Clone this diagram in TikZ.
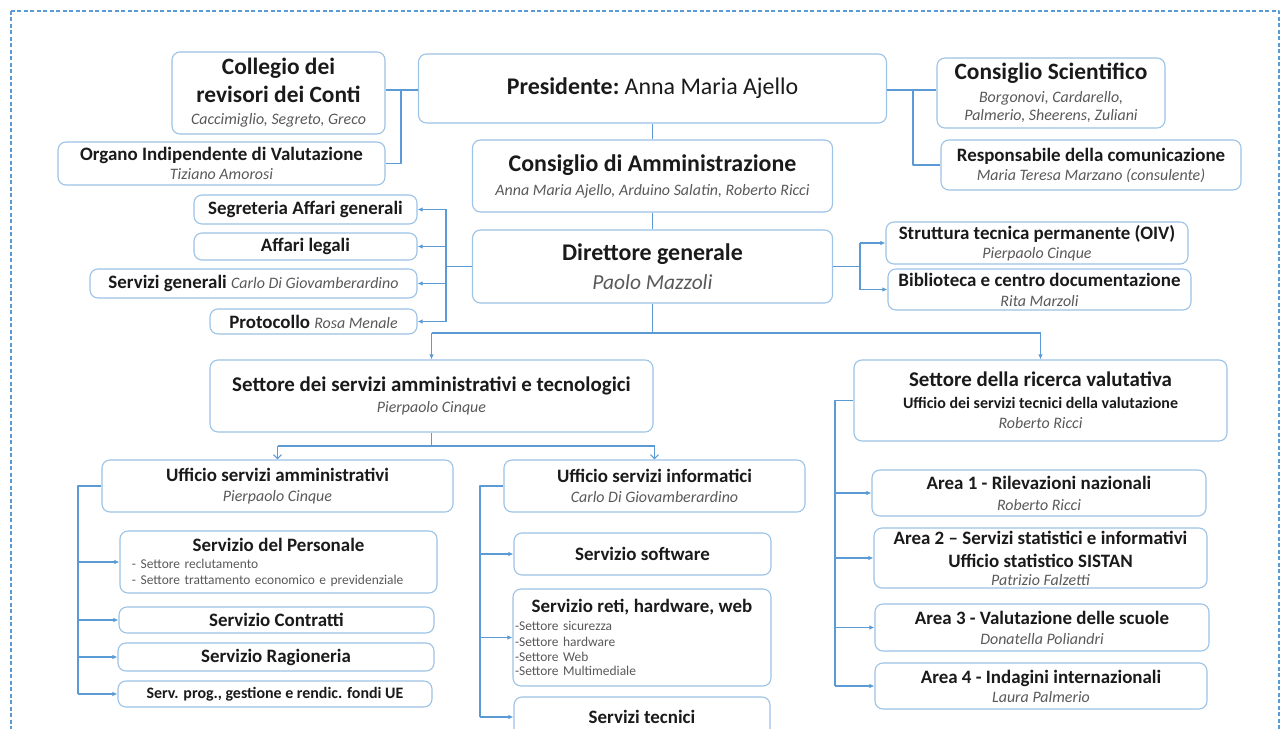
\documentclass[tikz,border=0pt]{standalone}
\usepackage{fontspec}
\setmainfont{Carlito}
\usetikzlibrary{arrows.meta}
\definecolor{boxline}{HTML}{9DC3E6}
\definecolor{linkblue}{HTML}{5B9BD5}
\definecolor{namegray}{HTML}{595959}
\definecolor{textdark}{HTML}{1A1A1A}
\newcommand{\fbig}{\fontsize{24}{29}\selectfont\bfseries}
\newcommand{\fttl}{\fontsize{23.5}{28}\selectfont\bfseries}
\newcommand{\fset}{\fontsize{21}{25}\selectfont\bfseries}
\newcommand{\fmid}{\fontsize{19}{23}\selectfont\bfseries}
\newcommand{\fsma}{\fontsize{19}{23}\selectfont\bfseries}
\newcommand{\fsml}{\fontsize{16}{19}\selectfont\bfseries}
\newcommand{\ftny}{\fontsize{16}{19}\selectfont\bfseries}
\newcommand{\fnam}{\fontsize{16}{19}\selectfont\itshape\color{namegray}}
\newcommand{\fnambig}{\fontsize{21.5}{26}\selectfont\itshape\color{namegray}}
\newcommand{\flst}{\fontsize{13.5}{16}\selectfont\color{namegray}}
\begin{document}
\begin{tikzpicture}[>=latex,line join=bevel,x=1bp,y=-1bp,
  box/.style={draw=boxline,line width=1.1bp,rounded corners=8bp,fill=white,
    align=center,inner sep=2bp,text=textdark},
  lsk/.style={font=\fontsize{16}{#1}\selectfont},
  link/.style={draw=linkblue,line width=1.1bp},
  arrowlink/.style={link,-{Latex[length=5bp,width=4.5bp]}},
  openlink/.style={link,-{Straight Barb[length=4bp,width=8bp]}},
  frame/.style={draw=linkblue,line width=1.1bp,dash pattern=on 4bp off 2.5bp}]
%%
\useasboundingbox (0,0) rectangle (1283,729);
\clip (0,0) rectangle (1283,729);
\fill [white] (0,0) rectangle (1283,729);
\draw [frame] (11,11) rectangle (1279,760);
%
\node (node_collegio) at (278.5,93) [box,lsk=22bp,minimum width=213bp,minimum height=82bp] {{\fttl Collegio dei}\\[6bp]{\fttl revisori dei Conti}\\{\fnam Caccimiglio, Segreto, Greco}};
  \node (node_organo) at (221.5,163.5) [box,lsk=19bp,minimum width=327bp,minimum height=43bp] {{\fmid Organo Indipendente di Valutazione}\\{\fnam Tiziano Amorosi}};
  \node (node_presidente) at (652.5,88.5) [box,minimum width=468bp,minimum height=69bp] {\raisebox{-3bp}{\fbig Presidente:\mdseries\ Anna Maria Ajello}};
  \node (node_consamm) at (652.5,176) [box,lsk=24bp,minimum width=360bp,minimum height=72bp] {{\fbig Consiglio di Amministrazione}\\{\fnam Anna Maria Ajello, Arduino Salatin, Roberto Ricci}};
  \node (node_conssci) at (1051,93) [box,lsk=18bp,minimum width=228bp,minimum height=70bp] {{\fttl Consiglio Scientifico}\\[5bp]{\fnam Borgonovi, Cardarello,}\\{\fnam Palmerio, Sheerens, Zuliani}};
  \node (node_resp) at (1091,165) [box,lsk=19bp,minimum width=300bp,minimum height=50bp] {{\fmid Responsabile della comunicazione}\\{\fnam Maria Teresa Marzano (consulente)}};
  \node (node_direttore) at (652.5,266.5) [box,lsk=29bp,minimum width=360bp,minimum height=73bp] {{\fbig Direttore generale}\\{\fnambig Paolo Mazzoli}};
  \node (node_segreteria) at (305.5,209.5) [box,minimum width=223bp,minimum height=29bp] {{\fsma Segreteria Affari generali}};
  \node (node_affari) at (305.5,246.5) [box,minimum width=223bp,minimum height=27bp] {{\fsma Affari legali}};
  \node (node_servgen) at (253.5,283.5) [box,minimum width=327bp,minimum height=29bp] {{\fsma Servizi generali\ }{\fnam Carlo Di Giovamberardino}};
  \node (node_protocollo) at (313.5,321.5) [box,minimum width=207bp,minimum height=25bp] {{\fsma Protocollo\ }{\fnam Rosa Menale}};
  \node (node_struttura) at (1037,243) [box,lsk=19bp,minimum width=302bp,minimum height=42bp] {{\fmid Struttura tecnica permanente (OIV)}\\{\fnam Pierpaolo Cinque}};
  \node (node_biblioteca) at (1039.5,289.5) [box,lsk=20bp,minimum width=303bp,minimum height=41bp] {{\fmid Biblioteca e centro documentazione}\\{\fnam Rita Marzoli}};
  \node (node_setserv) at (431.5,396) [box,lsk=21bp,minimum width=443bp,minimum height=72bp] {{\fset Settore dei servizi amministrativi e tecnologici}\\{\fnam Pierpaolo Cinque}};
  \node (node_setric) at (1040.5,400.5) [box,lsk=20bp,minimum width=373bp,minimum height=81bp] {{\fset Settore della ricerca valutativa}\\[2bp]{\ftny Ufficio dei servizi tecnici della valutazione}\\{\fnam Roberto Ricci}};
  \node (node_uffamm) at (277.5,486) [box,lsk=20bp,minimum width=351bp,minimum height=52bp] {{\fsma Ufficio servizi amministrativi}\\{\fnam Pierpaolo Cinque}};
  \node (node_uffinf) at (654.5,486) [box,lsk=20bp,minimum width=301bp,minimum height=52bp] {{\fsma Ufficio servizi informatici}\\{\fnam Carlo Di Giovamberardino}};
  \node (node_personale) at (278.5,562) [box,font=\fontsize{13.5}{16}\selectfont,minimum width=317bp,minimum height=62bp,align=left,text width=293bp] {\makebox[293bp][c]{\fsma Servizio del Personale}\\[1bp]{\flst - Settore reclutamento}\\{\flst - Settore trattamento economico e previdenziale}};
  \node (node_contratti) at (276.5,620) [box,minimum width=315bp,minimum height=26bp] {{\fsma Servizio Contratti}};
  \node (node_ragioneria) at (276,657) [box,minimum width=316bp,minimum height=28bp] {{\fsma Servizio Ragioneria}};
  \node (node_fondiue) at (275,694) [box,minimum width=314bp,minimum height=26bp] {{\fsml Serv. prog., gestione e rendic. fondi UE}};
  \node (node_software) at (642.5,554) [box,minimum width=257bp,minimum height=42bp] {{\fmid Servizio software}};
  \node (node_reti) at (642,637.5) [box,font=\fontsize{13.5}{15}\selectfont,minimum width=256bp,minimum height=97bp,align=left,text width=254bp] {\makebox[254bp][c]{\fsma Servizio reti, hardware, web}\\[3bp]{\flst -Settore sicurezza}\\[1bp]{\flst -Settore hardware}\\{\flst -Settore Web}\\{\flst -Settore Multimediale}};
  \node (node_tecnici) at (642,717) [box,minimum width=256bp,minimum height=40bp] {{\fsma Servizi tecnici}};
  \node (node_area1) at (1039,493) [box,lsk=21bp,minimum width=334bp,minimum height=46bp] {{\fsma Area 1 - Rilevazioni nazionali}\\{\fnam Roberto Ricci}};
  \node (node_area2) at (1040.5,558) [box,lsk=18bp,minimum width=333bp,minimum height=60bp] {{\fsma Area 2 – Servizi statistici e informativi}\\[5bp]{\fsma Ufficio statistico SISTAN}\\{\fnam Patrizio Falzetti}};
  \node (node_area3) at (1042,627.5) [box,lsk=20bp,minimum width=334bp,minimum height=47bp] {{\fsma Area 3 - Valutazione delle scuole}\\{\fnam Donatella Poliandri}};
  \node (node_area4) at (1041,686) [box,lsk=19bp,minimum width=332bp,minimum height=46bp] {{\fsma Area 4 - Indagini internazionali}\\{\fnam Laura Palmerio}};
%
  \coordinate (bus_top_l) at (401,90);
  \coordinate (bus_top_r) at (913,90);
  \coordinate (bus_staff_l) at (446,266.5);
  \coordinate (bus_staff_r) at (860,266.5);
  \coordinate (split_dir) at (652.5,333);
  \coordinate (split_serv) at (431.5,446);
  \coordinate (bus_amm) at (78,486);
  \coordinate (bus_inf) at (480,486);
  \coordinate (bus_ric) at (835,400.5);
%
  \draw [link] (node_collegio.east |- bus_top_l) -- (node_presidente.west |- bus_top_l);
  \draw [link] (bus_top_l) |- (node_organo.east);
  \draw [link] (node_presidente.east |- bus_top_r) -- (node_conssci.west |- bus_top_r);
  \draw [link] (bus_top_r) |- (node_resp.west);
  \draw [link] (node_presidente) -- (node_consamm);
  \draw [link] (node_consamm) -- (node_direttore);
  \draw [link] (node_direttore.west) -- (bus_staff_l);
  \draw [link] (bus_staff_l |- node_segreteria) -- (bus_staff_l |- node_protocollo);
  \foreach \n in {segreteria,affari,servgen,protocollo}
    \draw [arrowlink] (bus_staff_l |- node_\n) -- (node_\n.east);
  \draw [link] (node_direttore.east) -- (bus_staff_r);
  \draw [link] (bus_staff_r |- node_struttura) -- (bus_staff_r |- node_biblioteca);
  \foreach \n in {struttura,biblioteca}
    \draw [arrowlink] (bus_staff_r |- node_\n) -- (node_\n.west);
  \draw [link] (node_direttore) -- (split_dir);
  \draw [link] (node_setserv |- split_dir) -- (node_setric |- split_dir);
  \draw [arrowlink] (node_setserv |- split_dir) -- (node_setserv);
  \draw [arrowlink] (node_setric |- split_dir) -- (node_setric);
  \draw [link] (node_setserv) -- (split_serv);
  \draw [link] (node_uffamm |- split_serv) -- (node_uffinf |- split_serv);
  \draw [openlink] (node_uffamm |- split_serv) -- (node_uffamm);
  \draw [openlink] (node_uffinf |- split_serv) -- (node_uffinf);
  \draw [link] (node_uffamm.west) -- (bus_amm) -- (bus_amm |- node_fondiue);
  \foreach \n in {personale,contratti,ragioneria,fondiue}
    \draw [arrowlink] (bus_amm |- node_\n) -- (node_\n.west);
  \draw [link] (node_uffinf.west) -- (bus_inf) -- (bus_inf |- node_tecnici);
  \foreach \n in {software,reti,tecnici}
    \draw [arrowlink] (bus_inf |- node_\n) -- (node_\n.west);
  \draw [link] (node_setric.west) -- (bus_ric) -- (bus_ric |- node_area4);
  \foreach \n in {area1,area2,area3,area4}
    \draw [arrowlink] (bus_ric |- node_\n) -- (node_\n.west);
%
\end{tikzpicture}
\end{document}
